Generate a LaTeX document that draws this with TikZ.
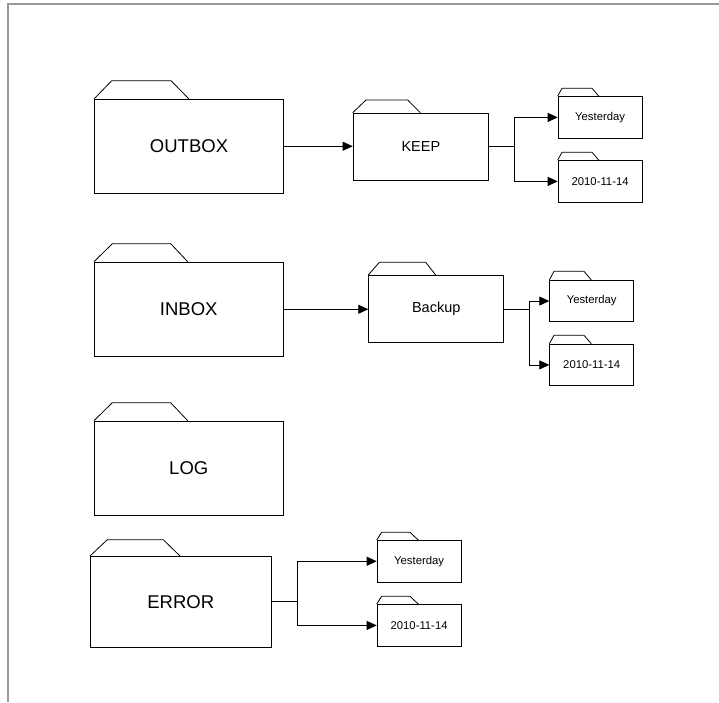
\documentclass[tikz,border=0pt]{standalone}
\usepackage{fontspec}
\setmainfont{Liberation Sans}
\usetikzlibrary{arrows.meta}
\tikzset{
  folder/.style={draw=black, line width=0.8pt, rectangle, anchor=north west, inner sep=0pt},
  bigfolder/.style={folder, minimum width=188.7pt, minimum height=94.3pt, font=\fontsize{18.5}{20}\selectfont},
  midfolder/.style={folder, font=\fontsize{14.5}{16}\selectfont},
  smallfolder/.style={folder, minimum width=84pt, minimum height=42pt, font=\fontsize{11.3}{13}\selectfont},
  tabline/.style={draw=black, line width=0.8pt},
  link/.style={draw=black, line width=0.8pt, -{Triangle[length=10pt,width=9pt]}},
  frameline/.style={draw=black!40, line width=1.3pt}
}
\newcommand{\foldertab}[5]{\draw[tabline] (#1.north west) -- ++(#2,-#5) -- ++(#3,0) -- ++(#4,#5);}
\begin{document}
\begin{tikzpicture}[x=1pt,y=-1pt]
\useasboundingbox (0,0) rectangle (719,702);
\draw[frameline] (719,4) -- (8,4) -- (8,702);

% OUTBOX group
\node[bigfolder] (outbox) at (94.3,98.7) {OUTBOX};
\foldertab{outbox}{17.4}{59.3}{17.7}{18}
\node[midfolder, minimum width=135.6pt, minimum height=67.3pt] (keep) at (352.7,112.7) {KEEP};
\foldertab{keep}{13.3}{41.7}{12.6}{12.7}
\node[smallfolder] (ky) at (557.7,96) {Yesterday};
\foldertab{ky}{4.3}{30}{6.7}{7.7}
\node[smallfolder] (kd) at (557.7,160) {2010-11-14};
\foldertab{kd}{4.3}{30}{6.7}{7.7}

% INBOX group
\node[bigfolder] (inbox) at (94,261.7) {INBOX};
\foldertab{inbox}{18.3}{58.4}{17}{18}
\node[midfolder, minimum width=135pt, minimum height=67pt] (backup) at (368.3,275) {Backup};
\foldertab{backup}{11}{46.4}{10}{12.7}
\node[smallfolder, minimum height=41.3pt] (by) at (549.3,280) {Yesterday};
\foldertab{by}{4.7}{30}{7.3}{8.7}
\node[smallfolder, minimum height=41.6pt] (bd) at (549.3,343.7) {2010-11-14};
\foldertab{bd}{4.7}{30}{7.3}{8.4}

% LOG
\node[bigfolder] (log) at (94,420.7) {LOG};
\foldertab{log}{18.3}{58.4}{17}{18}

% ERROR group
\node[bigfolder, minimum width=180.7pt, minimum height=90.7pt] (error) at (90,556) {ERROR};
\foldertab{error}{17.3}{56}{16.7}{16.3}
\node[smallfolder, minimum height=41.7pt] (ey) at (376.7,540) {Yesterday};
\foldertab{ey}{5}{28.3}{8.3}{7.7}
\node[smallfolder] (ed) at (376.7,604) {2010-11-14};
\foldertab{ed}{5}{28.3}{8.3}{7.7}

% connectors
\draw[link] (outbox.east) -- (keep.west |- outbox.east);
\draw[link] (keep.east) -- ++(25.4,0) |- (ky.west);
\draw[link] (keep.east) -- ++(25.4,0) |- (kd.west);

\draw[link] (inbox.east) -- (backup.west |- inbox.east);
\draw[link] (backup.east) -- ++(25.4,0) |- (by.west);
\draw[link] (backup.east) -- ++(25.4,0) |- (bd.west);

\draw[link] (error.east) -- ++(26,0) |- (ey.west);
\draw[link] (error.east) -- ++(26,0) |- (ed.west);
\end{tikzpicture}
\end{document}
